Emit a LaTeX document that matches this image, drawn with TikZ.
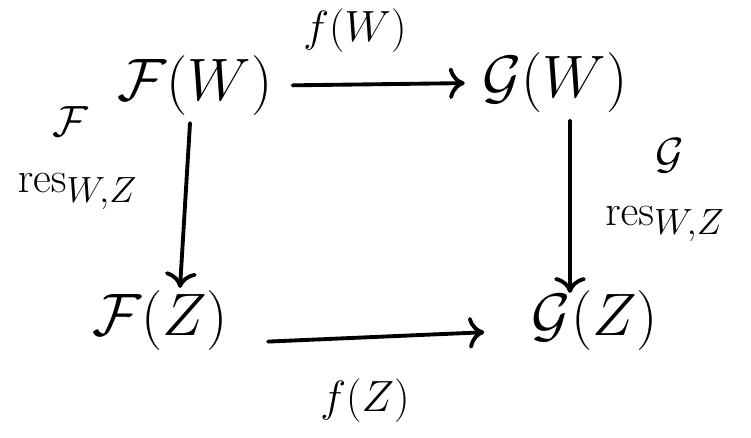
\documentclass[tikz,border=0pt]{standalone}
\usepackage{amsmath,amssymb}
\usetikzlibrary{arrows.meta}

\begin{document}
\begin{tikzpicture}[x=1cm,y=1cm,
    obj/.style={font=\Huge, scale=1.37, transform shape, inner sep=3pt},
    lbl/.style={font=\Huge, inner sep=2pt},
    map/.style={-{To[length=9pt,width=18pt]}, line width=2.2pt, line cap=round}]
    \useasboundingbox (0,0) rectangle (15.02,8.76);
    % the four objects
    \node[obj] (FW) at (3.9,7.05) {$\mathcal{F}(W)$};
    \node[obj] (GW) at (11.1,7.1) {$\mathcal{G}(W)$};
    \node[obj] (FZ) at (3.2,2.35) {$\mathcal{F}(Z)$};
    \node[obj] (GZ) at (11.9,2.35) {$\mathcal{G}(Z)$};
    % the maps
    \draw[map, shorten <=0.25cm, shorten >=0.2cm] (FW.east) -- (GW.west);
    \draw[map] ([xshift=-0.1cm]FW.south) -- ([xshift=0.4cm,yshift=-0.1cm]FZ.north);
    \draw[map, shorten >=0.1cm] ([xshift=0.3cm]GW.south) -- ([xshift=-0.5cm,yshift=-0.3cm]GZ.north);
    \draw[map, shorten <=0.65cm, shorten >=0.8cm] ([yshift=-0.45cm]FZ.east) -- ([yshift=-0.2cm]GZ.west);
    % labels
    \node[lbl] (fW) at (7.1,8.15) {$f(W)$};
    \node[lbl] (fZ) at (7.3,0.75) {$f(Z)$};
    \node[lbl, align=left] (resF) at (1.55,5.6) {\hspace*{0.7cm}$\mathcal{F}$\\[2pt]$\mathrm{res}_{W,Z}$};
    \node[lbl, align=left] (resG) at (13.3,4.95) {\hspace*{1.0cm}$\mathcal{G}$\\[2pt]$\mathrm{res}_{W,Z}$};
\end{tikzpicture}
\end{document}
